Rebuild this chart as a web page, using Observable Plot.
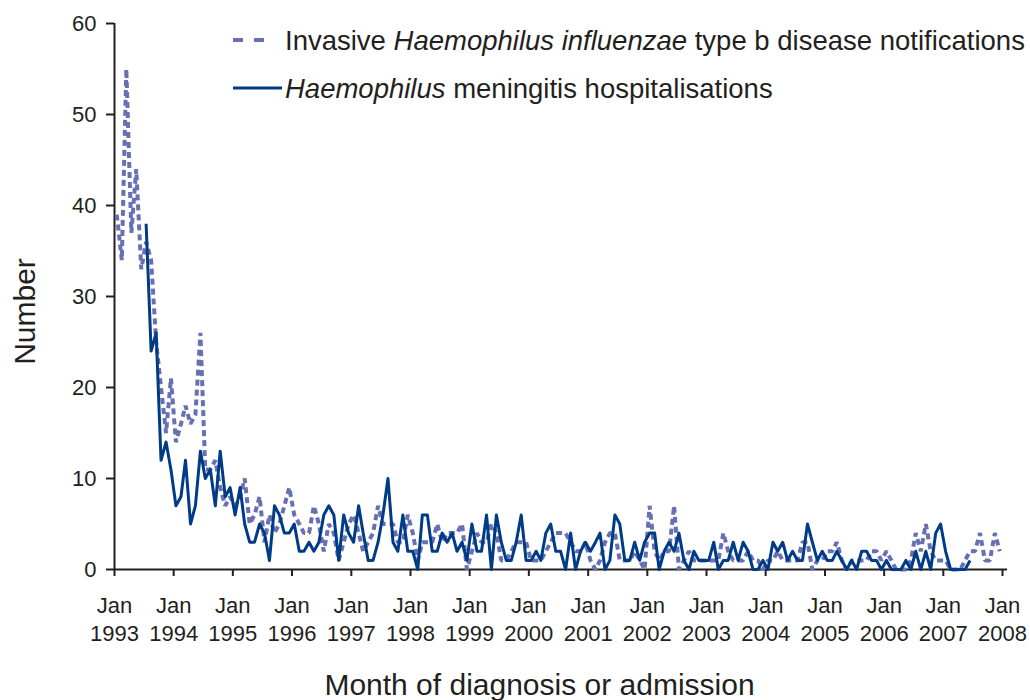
<!DOCTYPE html>
<html>
<head>
<meta charset="utf-8">
<script src="https://cdn.jsdelivr.net/npm/d3@7"></script>
<script src="https://cdn.jsdelivr.net/npm/@observablehq/plot@0.6"></script>
<style>
  body { margin: 0; background: #ffffff; }
  #chart { width: 1030px; height: 700px; }
</style>
</head>
<body>
<div id="chart"></div>
<script>
// ---------------- data ----------------
// Invasive Hib disease notifications, monthly, Jan 1993 – Dec 2007
const notifStart = [1993, 0];
const notifications = [
  39, 34, 55, 37, 44, 33, 36, 34, 25, 20, 15, 21,   // 1993
  14, 16, 18, 16, 17, 26, 11, 11, 12,  9,  7,  8,   // 1994
   7,  8, 10,  5,  6,  8,  3,  6,  4,  5,  7,  9,   // 1995
   6,  5,  4,  4,  7,  5,  2,  5,  4,  1,  3,  5,   // 1996
   6,  4,  2,  3,  4,  7,  5,  5,  5,  3,  3,  6,   // 1997
   4,  1,  3,  3,  3,  5,  3,  4,  4,  4,  5,  0,   // 1998
   2,  4,  3,  3,  5,  4,  1,  1,  2,  3,  3,  3,   // 1999
   1,  1,  1,  2,  3,  4,  4,  4,  3,  2,  2,  3,   // 2000
   1,  0,  1,  3,  4,  4,  1,  1,  1,  2,  1,  0,   // 2001
   7,  2,  1,  2,  2,  7,  0,  1,  2,  1,  1,  1,   // 2002
   1,  1,  1,  4,  2,  1,  1,  1,  2,  1,  1,  0,   // 2003
   1,  1,  2,  1,  1,  1,  1,  3,  3,  0,  1,  1,   // 2004
   2,  2,  3,  1,  0,  1,  1,  1,  1,  2,  2,  1,   // 2005
   2,  1,  0,  0,  0,  1,  4,  2,  5,  2,  1,  1,   // 2006
   1,  0,  0,  0,  1,  2,  2,  4,  1,  1,  4,  2    // 2007
];

// Haemophilus meningitis hospitalisations, monthly, Jul 1993 – Jun 2007
const hospStart = [1993, 6];
const hospitalisations = [
                      38, 24, 26, 12, 14, 11,       // 1993 (Jul–Dec)
   7,  8, 12,  5,  7, 13, 10, 11,  7, 13,  8,  9,   // 1994
   6,  9,  5,  3,  3,  5,  4,  1,  7,  6,  4,  4,   // 1995
   5,  2,  2,  3,  2,  3,  6,  7,  6,  1,  6,  4,   // 1996
   3,  7,  4,  1,  1,  3,  6, 10,  3,  2,  6,  2,   // 1997
   2,  0,  6,  6,  2,  2,  4,  3,  4,  2,  3,  1,   // 1998
   5,  2,  2,  6,  0,  6,  3,  1,  1,  3,  6,  1,   // 1999
   1,  2,  1,  4,  5,  2,  2,  0,  4,  0,  2,  3,   // 2000
   2,  3,  4,  0,  1,  6,  5,  1,  1,  3,  1,  3,   // 2001
   4,  4,  0,  2,  3,  2,  4,  1,  0,  2,  1,  1,   // 2002
   1,  3,  0,  1,  1,  3,  1,  3,  2,  0,  0,  1,   // 2003
   0,  3,  2,  3,  1,  2,  1,  1,  5,  3,  1,  2,   // 2004
   1,  1,  2,  1,  0,  1,  0,  2,  2,  1,  1,  0,   // 2005
   1,  0,  0,  0,  1,  0,  2,  0,  2,  0,  4,  5,   // 2006
   2,  0,  0,  0,  0,  1                            // 2007 (Jan–Jun)
];

const tickYears = d3.range(1993, 2009);          // Jan 1993 … Jan 2008
const tickMonthLabel = "Jan";
const yTicks = [0, 10, 20, 30, 40, 50, 60];
const yDomain = [0, 60];
const xDomainYears = [1993, 2008];

const seriesNames = {
  notif: ["Invasive ", "Haemophilus influenzae", " type b disease notifications"],
  hosp: ["", "Haemophilus", " meningitis hospitalisations"]
};
const yTitle = "Number";
const xTitle = "Month of diagnosis or admission";

// ---------------- build ----------------
const monthly = (start, values) =>
  values.map((v, i) => ({ date: new Date(Date.UTC(start[0], start[1] + i, 15)), value: v }));

const notifData = monthly(notifStart, notifications);
const hospData = monthly(hospStart, hospitalisations);
const tickDates = tickYears.map(y => new Date(Date.UTC(y, 0, 1)));
const xStart = new Date(Date.UTC(xDomainYears[0], 0, 1));
const xEnd = new Date(Date.UTC(xDomainYears[1], 0, 1));
const axisEnd = new Date(Date.UTC(xDomainYears[1], 1, 1));

const ink = "#231f20";
const solidColor = "#003b87";
const dashColor = "#6670b2";
const font = "'Liberation Sans', Arial, Helvetica, sans-serif";

const plot = Plot.plot({
  width: 1030,
  height: 700,
  marginLeft: 114,
  marginRight: 28,
  marginTop: 23,
  marginBottom: 131,
  style: { fontFamily: font, color: ink, background: "#ffffff", overflow: "visible" },
  x: { type: "utc", domain: [xStart, xEnd] },
  y: { domain: yDomain },
  marks: [
    Plot.axisX({
      ticks: tickDates,
      tickFormat: d => `${tickMonthLabel}\n${d.getUTCFullYear()}`,
      tickSize: 7, tickPadding: 17, fontSize: 22, lineHeight: 1.27,
      strokeWidth: 2, label: null
    }),
    Plot.axisY({
      ticks: yTicks, tickSize: 8, tickPadding: 10, fontSize: 22,
      strokeWidth: 2, label: null
    }),
    Plot.ruleY([0], { x1: () => xStart, x2: () => axisEnd, stroke: ink, strokeWidth: 2 }),
    Plot.ruleX([xStart], { y1: () => yDomain[0], y2: () => yDomain[1], stroke: ink, strokeWidth: 2 }),
    Plot.line(notifData, {
      x: "date", y: "value", stroke: dashColor, strokeWidth: 4,
      strokeDasharray: "6,4", strokeLinecap: "butt", strokeLinejoin: "miter"
    }),
    Plot.line(hospData, {
      x: "date", y: "value", stroke: solidColor, strokeWidth: 3,
      strokeLinejoin: "round", strokeLinecap: "butt"
    }),
    Plot.text([yTitle], {
      text: d => d, frameAnchor: "left", dx: -89, dy: 15, rotate: -90,
      fontSize: 30, textAnchor: "middle", lineAnchor: "middle", fill: ink
    }),
    Plot.text([xTitle], {
      text: d => d, frameAnchor: "bottom", dx: -19, dy: 116,
      fontSize: 30, textAnchor: "middle", lineAnchor: "middle", fill: ink
    })
  ]
});

// ---------------- legend ----------------
const svg = d3.select(plot);
const lg = svg.append("g")
  .attr("font-family", font)
  .attr("font-size", 27.5)
  .attr("fill", ink)
  .attr("text-anchor", "start")
  .style("white-space", "pre");

lg.append("line")
  .attr("x1", 233).attr("x2", 265).attr("y1", 40).attr("y2", 40)
  .attr("stroke", dashColor).attr("stroke-width", 4)
  .attr("stroke-dasharray", "10,11");
lg.append("line")
  .attr("x1", 233).attr("x2", 282).attr("y1", 88).attr("y2", 88)
  .attr("stroke", solidColor).attr("stroke-width", 3);

function legendText(parts, y) {
  const t = lg.append("text").attr("x", 285).attr("y", y).attr("text-anchor", "start");
  parts.forEach((p, i) => {
    if (!p) return;
    t.append("tspan").attr("font-style", i === 1 ? "italic" : "normal").text(p);
  });
}
legendText(seriesNames.notif, 50);
legendText(seriesNames.hosp, 98);

document.getElementById("chart").appendChild(plot);
</script>
</body>
</html>
